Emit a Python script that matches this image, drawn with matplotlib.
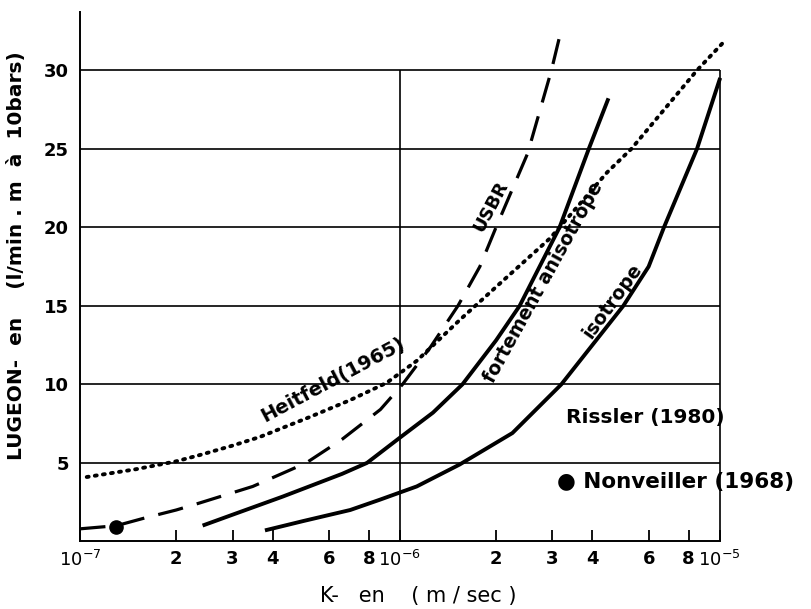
import matplotlib
matplotlib.use('Agg')
import matplotlib.pyplot as plt

plt.rcParams['font.family'] = ['DejaVu Sans']

# courbes (k en m/s, Lugeon)
heit_k = [1.05e-7, 1.5e-7, 2e-7, 2.37e-7, 3e-7, 3.65e-7, 5.2e-7, 7e-7, 9.1e-7, 1.13e-6,
          1.54e-6, 2.05e-6, 2.95e-6, 4.45e-6, 5.3e-6, 8.5e-6, 1.03e-5]
heit_lu = [4.1, 4.6, 5.1, 5.5, 6.1, 6.65, 7.9, 9.0, 10.1, 11.5,
           14.1, 16.4, 19.3, 23.5, 25, 30, 31.8]

usbr_k = [1e-7, 1.3e-7, 1.6e-7, 2e-7, 2.37e-7, 3.47e-7, 5.1e-7, 6.6e-7, 8.7e-7, 1.02e-6,
          1.25e-6, 1.52e-6, 1.78e-6, 2e-6, 2.51e-6, 2.98e-6, 3.2e-6]
usbr_lu = [0.8, 1.0, 1.5, 2.0, 2.45, 3.5, 5.0, 6.5, 8.4, 10,
           12.4, 15, 17.5, 20, 24.7, 30, 32.6]

aniso_k = [2.45e-7, 3e-7, 4.3e-7, 6.6e-7, 7.9e-7, 1e-6, 1.27e-6, 1.57e-6, 2e-6, 2.37e-6,
           3.16e-6, 3.9e-6, 4.47e-6]
aniso_lu = [1.05, 1.7, 2.85, 4.3, 5, 6.6, 8.2, 10, 12.8, 15, 20, 25, 28.1]

iso_k = [3.84e-7, 5e-7, 7e-7, 8.65e-7, 1.13e-6, 1.54e-6, 2.25e-6, 3.2e-6, 4e-6, 5e-6,
         6e-6, 6.7e-6, 8.5e-6, 1e-5]
iso_lu = [0.73, 1.3, 2.0, 2.65, 3.5, 4.9, 6.9, 10, 12.5, 15, 17.5, 20, 25, 29.4]

nonv_k = [1.3e-7]
nonv_lu = [0.9]

xticks = [1e-7, 2e-7, 3e-7, 4e-7, 6e-7, 8e-7, 1e-6, 2e-6, 3e-6, 4e-6, 6e-6, 8e-6, 1e-5]
xlabels = [r'$10^{-7}$', '2', '3', '4', '6', '8', r'$10^{-6}$', '2', '3', '4', '6', '8', r'$10^{-5}$']
yticks = [5, 10, 15, 20, 25, 30]

fig = plt.figure(figsize=(8.11, 6.09), dpi=100)
ax = fig.add_axes([0.0986, 0.111, 0.805, 0.869])
ax.set_xscale('log')
ax.set_xlim(1e-7, 1.1e-5)
ax.set_ylim(0, 33.7)

# quadrillage
ax.hlines(yticks, 1e-7, 1e-5, color='black', lw=1.2)
ax.vlines([1e-6, 1e-5], 0, 30, color='black', lw=1.2)

ax.plot(heit_k, heit_lu, color='black', lw=2.8, linestyle=(0, (0.5, 1.6)), dash_capstyle='round')
ax.plot(usbr_k, usbr_lu, color='black', lw=2.3, linestyle=(0, (8, 4.5)))
ax.plot(aniso_k, aniso_lu, color='black', lw=2.8)
ax.plot(iso_k, iso_lu, color='black', lw=2.8)
ax.scatter(nonv_k, nonv_lu, s=90, color='black', zorder=5, clip_on=False)

ax.text(6.17e-7, 10.3, 'Heitfeld(1965)', rotation=28, ha='center', va='center', fontsize=14, fontweight='bold')
ax.text(1.92e-6, 21.3, 'USBR', rotation=62, ha='center', va='center', fontsize=13, fontweight='bold')
ax.text(2.82e-6, 16.5, 'fortement anisotrope', rotation=61, ha='center', va='center', fontsize=13.5,
        fontweight='bold')
ax.text(4.64e-6, 15.3, 'isotrope', rotation=54, ha='center', va='center', fontsize=13.5, fontweight='bold')
ax.text(3.3e-6, 7.9, 'Rissler (1980)', ha='left', va='center', fontsize=14.5, fontweight='bold')
ax.text(3.1e-6, 3.8, '● Nonveiller (1968)', ha='left', va='center', fontsize=15.5, fontweight='bold',
        clip_on=False)

for s in ['top', 'right']:
    ax.spines[s].set_visible(False)
ax.spines['bottom'].set_bounds(1e-7, 1e-5)
ax.spines['left'].set_linewidth(1.4)
ax.spines['bottom'].set_linewidth(1.4)

ax.xaxis.set_minor_locator(matplotlib.ticker.NullLocator())
ax.set_xticks(xticks)
ax.set_xticklabels(xlabels, fontsize=13, fontweight='bold')
ax.tick_params(axis='x', direction='in', length=8, width=1.3, pad=6)
ax.set_yticks(yticks)
ax.set_yticklabels([str(v) for v in yticks], fontsize=13, fontweight='bold')
ax.tick_params(axis='y', length=0, pad=8)

ax.set_xlabel('K-   en    ( m / sec )', fontsize=15)
ax.xaxis.set_label_coords(0.518, -0.085)
ax.set_ylabel('LUGEON-  en    (l/min . m  à  10bars)', fontsize=14.5, fontweight='bold')
ax.yaxis.set_label_coords(-0.082, 0.54)

fig.savefig('out.png', dpi=100, facecolor='white')
